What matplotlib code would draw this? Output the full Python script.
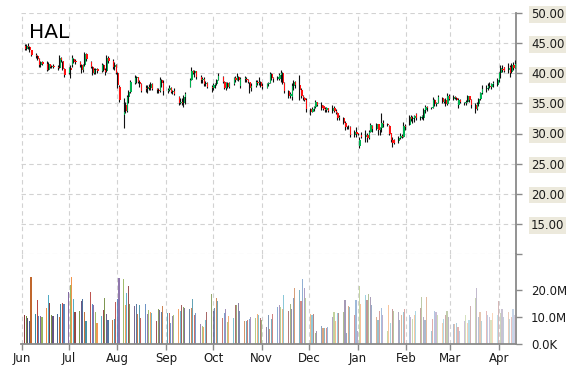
import numpy as np
import pandas as pd
import matplotlib
matplotlib.use("Agg")
import matplotlib.pyplot as plt
import matplotlib.dates as mdates
from matplotlib.colors import to_rgba

# trading days shown on the chart
dates = pd.bdate_range("2013-06-03", "2014-04-11")

opens = [
    44.6, 44.0, 44.6, 44.3, 43.8, 43.1, 42.8, 42.3, 41.3, 41.9, 41.6, 40.6, 41.5, 41.0, 41.2, 41.1, 40.8, 42.6, 42.0, 40.7,  # jun
    40.0, 40.9, 41.3, 42.3, 42.0, 41.8, 41.4, 40.5, 41.3, 43.2, 41.8, 41.0, 40.0, 40.6, 40.7, 40.3, 41.3, 40.6, 40.3, 42.6, 42.0, 41.0, 41.3,  # jul
    40.0, 37.8, 33.0, 34.8, 33.8, 36.0, 36.9, 38.3, 39.2, 39.3, 38.6, 38.2, 37.5, 37.4, 37.8, 37.5, 38.2, 37.4, 37.3, 37.0, 38.8, 38.4,  # aug
    37.0, 37.3, 37.6, 36.9, 37.1, 36.0, 35.0, 35.3, 35.0, 36.1, 37.8, 38.9, 40.4, 40.1, 40.3, 39.3, 38.8, 39.0, 38.2, 38.4, 37.8,  # sep
    37.5, 38.0, 38.2, 38.9, 39.3, 38.6, 37.6, 38.3, 37.8, 38.2, 39.2, 38.9, 39.3, 37.9, 39.0, 39.1, 38.8, 38.5, 37.5, 37.9, 38.5, 38.3, 38.6,  # oct
    37.9, 37.6, 38.2, 38.4, 39.8, 39.2, 39.0, 39.0, 39.7, 40.0, 38.4, 37.0, 36.2, 36.0, 37.9, 38.5, 38.0, 37.3, 36.2, 35.9, 35.6,  # nov
    34.0, 33.6, 34.1, 34.4, 35.2, 34.8, 34.5, 34.1, 33.9, 34.2, 33.8, 34.3, 33.8, 33.4, 32.5, 32.6, 31.8, 31.0, 31.0, 31.1, 29.8, 30.2,  # dec
    30.0, 28.0, 29.8, 29.5, 29.8, 29.3, 30.3, 31.2, 30.8, 31.5, 30.5, 30.9, 31.8, 31.5, 31.3, 30.0, 29.0, 29.0, 28.7, 29.3, 29.6, 29.5, 31.3,  # jan
    31.4, 32.8, 32.4, 32.6, 33.2, 32.5, 32.7, 32.6, 33.9, 34.4, 34.2, 34.2, 35.6, 34.9, 35.1, 35.9, 35.3, 35.5, 34.9, 36.3,  # feb
    35.8, 36.1, 35.9, 34.8, 35.6, 35.0, 35.1, 35.3, 36.2, 35.6, 34.8, 34.0, 34.9, 35.7, 36.7, 37.4, 37.5, 37.9, 37.8, 38.2, 38.1,  # mar
    38.9, 40.0, 40.6, 41.0, 40.5, 41.0, 40.2, 41.3, 40.9,  # apr
]
highs = [
    44.9, 44.8, 45.0, 44.5, 43.9, 43.4, 43.0, 42.6, 42.1, 42.0, 42.0, 41.8, 41.6, 41.4, 41.5, 41.3, 43.0, 42.7, 42.1, 40.8,
    41.0, 41.4, 43.0, 42.5, 42.3, 42.0, 41.6, 41.5, 43.5, 43.3, 42.0, 41.2, 40.9, 40.9, 40.8, 41.7, 41.5, 40.9, 43.0, 42.8, 42.3, 41.8, 41.5,
    40.2, 38.0, 35.9, 35.2, 36.4, 37.2, 38.9, 39.7, 39.5, 39.4, 38.8, 38.3, 38.0, 38.0, 38.2, 38.5, 38.3, 37.6, 37.5, 39.4, 39.0, 38.9,
    37.6, 38.0, 37.8, 37.3, 37.5, 36.2, 35.9, 35.9, 36.4, 36.9, 39.2, 41.0, 40.6, 40.5, 40.4, 39.7, 39.3, 39.3, 38.7, 38.6, 38.0,
    38.3, 38.4, 39.1, 40.0, 39.5, 38.7, 38.5, 38.5, 38.5, 39.4, 39.5, 40.0, 39.6, 39.4, 39.5, 39.3, 39.0, 38.6, 38.4, 38.8, 38.9, 39.3, 38.7,
    38.3, 38.4, 38.6, 40.2, 40.0, 39.4, 39.6, 40.0, 40.5, 40.2, 38.6, 37.2, 36.9, 38.4, 38.9, 38.7, 39.7, 37.5, 36.4, 36.1, 35.9,
    34.2, 34.4, 34.6, 35.6, 35.3, 35.2, 34.8, 34.4, 34.4, 34.3, 34.7, 34.5, 34.0, 33.5, 33.0, 32.8, 32.0, 31.2, 31.4, 31.2, 30.5, 31.1,
    30.1, 29.4, 30.2, 30.6, 30.1, 30.6, 31.7, 31.4, 31.7, 31.6, 31.1, 33.4, 32.2, 31.8, 31.4, 30.1, 29.4, 29.1, 29.6, 30.1, 30.0, 31.9, 31.6,
    33.1, 33.0, 32.9, 33.0, 33.4, 32.9, 33.0, 34.2, 34.7, 34.6, 34.4, 36.1, 35.7, 35.3, 36.4, 36.0, 35.8, 35.9, 36.7, 36.5,
    36.4, 36.3, 36.0, 35.9, 35.8, 35.2, 35.5, 36.4, 36.3, 35.7, 35.1, 35.2, 35.9, 36.9, 38.0, 38.0, 38.3, 38.5, 38.4, 38.7, 39.2,
    40.2, 41.4, 41.4, 41.1, 41.7, 41.4, 41.7, 41.9, 42.2,
]
lows = [
    43.8, 43.9, 44.0, 43.6, 42.9, 42.5, 42.2, 41.0, 41.1, 41.4, 40.3, 40.5, 40.8, 40.9, 40.9, 40.5, 40.8, 41.9, 40.5, 39.4,
    39.8, 39.2, 41.0, 41.7, 41.6, 41.0, 40.0, 40.2, 41.2, 42.0, 40.8, 39.7, 39.8, 39.8, 40.1, 40.2, 40.4, 39.7, 40.2, 41.7, 40.7, 40.5, 39.8,
    37.6, 35.2, 30.9, 33.4, 33.6, 35.1, 36.8, 38.2, 38.4, 38.3, 37.8, 36.9, 36.9, 36.7, 37.2, 37.3, 37.2, 36.7, 36.8, 36.9, 37.8, 36.4,
    36.8, 37.1, 36.7, 36.5, 36.4, 34.7, 34.9, 34.7, 34.4, 34.9, 37.7, 38.9, 39.8, 39.4, 39.1, 38.4, 38.3, 37.9, 37.9, 37.6, 36.9,
    37.3, 37.6, 38.0, 38.8, 38.4, 37.4, 37.2, 37.5, 37.6, 38.0, 38.6, 38.8, 38.7, 37.5, 38.6, 38.5, 38.3, 36.7, 37.0, 37.8, 38.0, 38.0, 37.7,
    37.4, 37.5, 37.9, 38.3, 38.9, 38.6, 38.8, 38.9, 38.5, 38.2, 36.7, 35.9, 35.9, 35.6, 37.2, 37.6, 35.6, 35.9, 35.6, 35.4, 33.6,
    33.1, 33.5, 33.8, 34.3, 34.6, 33.9, 33.9, 33.6, 33.6, 33.5, 33.4, 33.5, 33.2, 32.2, 32.2, 31.5, 30.6, 30.8, 30.8, 29.4, 29.4, 29.4,
    29.8, 27.6, 29.3, 28.6, 28.6, 29.1, 30.2, 30.3, 30.6, 29.7, 29.8, 30.2, 31.1, 31.2, 29.8, 28.6, 27.8, 28.3, 28.5, 29.1, 29.2, 29.4, 30.6,
    31.4, 32.1, 31.7, 31.9, 32.2, 32.2, 32.4, 32.2, 33.4, 33.8, 34.0, 34.2, 34.6, 34.5, 35.1, 35.0, 35.0, 34.6, 34.8, 35.6,
    35.6, 35.7, 35.5, 34.2, 35.0, 34.7, 34.8, 35.2, 35.3, 34.2, 33.4, 33.9, 34.5, 35.5, 36.6, 36.9, 37.3, 37.5, 37.4, 37.8, 37.9,
    38.5, 39.2, 40.2, 40.2, 40.0, 39.4, 40.1, 40.5, 40.8,
]
closes = [
    44.0, 44.6, 44.3, 43.8, 43.1, 42.8, 42.3, 41.3, 41.9, 41.6, 40.6, 41.5, 41.0, 41.2, 41.1, 40.8, 42.6, 42.2, 40.7, 39.7,
    40.8, 40.6, 42.5, 41.8, 41.9, 41.4, 40.5, 41.3, 43.2, 42.3, 41.0, 40.0, 40.6, 40.7, 40.3, 41.3, 40.6, 40.2, 42.6, 42.1, 41.0, 41.3, 40.0,
    38.0, 35.6, 33.6, 33.8, 36.0, 36.9, 38.5, 39.2, 39.3, 38.6, 38.2, 37.1, 37.4, 37.8, 37.5, 38.2, 37.4, 37.3, 37.0, 38.8, 38.4, 37.0,
    37.3, 37.6, 36.9, 37.1, 36.6, 35.0, 35.3, 35.0, 36.1, 36.6, 38.9, 40.4, 40.1, 40.3, 39.3, 38.8, 39.0, 38.2, 38.4, 37.8, 37.5,
    38.0, 38.2, 38.9, 39.6, 38.6, 37.6, 38.3, 37.8, 38.3, 39.2, 38.9, 39.3, 38.9, 39.0, 39.1, 38.8, 38.5, 37.5, 37.9, 38.5, 38.3, 38.6, 37.9,
    37.8, 38.2, 38.3, 39.8, 39.2, 39.0, 39.4, 39.7, 40.0, 38.4, 37.0, 36.2, 36.5, 37.9, 38.5, 38.0, 37.3, 36.2, 35.9, 35.6, 34.0,
    33.6, 34.1, 34.4, 35.2, 34.8, 34.3, 34.1, 33.9, 34.2, 33.8, 34.3, 33.8, 33.4, 32.5, 32.7, 31.8, 31.0, 31.0, 31.1, 29.8, 30.2, 30.0,
    29.9, 28.9, 29.5, 29.8, 29.3, 30.3, 31.4, 30.8, 31.5, 30.5, 30.9, 31.8, 31.5, 31.4, 30.0, 29.0, 28.5, 28.5, 29.3, 29.6, 29.5, 31.3, 31.0,
    32.8, 32.4, 32.6, 32.9, 32.5, 32.7, 32.8, 33.9, 34.4, 34.2, 34.2, 35.6, 34.9, 35.1, 36.0, 35.3, 35.5, 34.9, 36.3, 35.8,
    36.1, 35.9, 35.6, 35.6, 35.3, 35.1, 35.3, 36.2, 35.6, 34.8, 34.0, 34.9, 35.7, 36.7, 37.4, 37.5, 37.9, 37.8, 38.2, 38.3, 38.9,
    40.0, 40.8, 40.5, 40.4, 40.8, 40.1, 41.3, 40.9, 41.6,
]
# volume in millions of shares
volumes = [
    10.9, 10.5, 9.6, 8.6, 24.8, 11.2, 16.4, 10.6, 10.6, 10.2, 13.3, 18.3, 15.4, 10.9, 10.5, 11.2, 10.0, 14.9, 15.2, 14.9,
    19.5, 22.0, 24.8, 16.7, 12.0, 12.3, 16.0, 16.7, 11.9, 8.6, 19.4, 14.9, 14.6, 12.0, 8.0, 10.4, 12.6, 17.3, 11.1, 8.9, 9.1, 9.5, 15.7,
    16.9, 24.7, 24.3, 14.4, 19.1, 21.5, 14.8, 14.0, 14.8, 11.1, 14.4, 9.9, 14.8, 11.1, 12.6, 12.0, 11.5, 8.5, 13.0, 12.6, 12.0, 14.0,
    11.6, 11.6, 7.9, 10.4, 11.0, 13.0, 12.3, 14.4, 13.8, 13.5, 13.0, 13.6, 16.7, 11.0, 11.6, 7.5, 6.8, 6.5, 9.0, 12.0, 18.6,
    12.3, 13.3, 17.3, 16.2, 9.9, 11.5, 13.2, 8.4, 10.5, 9.6, 14.6, 14.6, 15.2, 12.3, 8.6, 8.8, 9.0, 9.4, 10.0, 9.6, 11.2, 10.9, 9.9,
    9.0, 6.5, 10.9, 5.6, 9.5, 11.2, 13.7, 14.6, 13.7, 13.1, 18.3, 12.5, 15.0, 13.0, 17.0, 21.0, 20.0, 16.0, 24.0, 21.0, 17.0,
    11.2, 10.9, 11.2, 4.1, 5.0, 6.8, 5.9, 6.2, 5.9, 6.5, 10.2, 12.1, 8.8, 11.5, 11.7, 12.1, 16.4, 4.0, 14.0, 13.7, 11.0, 16.5,
    5.0, 21.6, 15.0, 18.3, 16.5, 18.5, 17.5, 14.5, 10.0, 9.0, 12.5, 13.5, 11.0, 5.0, 14.5, 8.0, 13.0, 12.5, 12.0, 9.0, 11.0, 12.0, 13.0,
    11.0, 10.0, 9.5, 11.0, 12.5, 13.5, 17.5, 10.0, 9.0, 17.5, 5.0, 9.5, 12.5, 12.0, 11.0, 8.0, 9.5, 11.0, 12.5, 10.0,
    7.5, 7.5, 8.0, 6.5, 5.0, 8.5, 11.0, 8.0, 9.0, 14.0, 17.0, 21.0, 10.0, 12.0, 8.5, 12.5, 11.0, 10.0, 9.0, 11.5, 11.0,
    16.0, 11.5, 13.0, 10.0, 12.0, 9.5, 10.0, 13.0, 11.0,
]

price_ticks = [10, 15, 20, 25, 30, 35, 40, 45, 50]
volume_ticks = [0, 10, 20]
volume_labels = ["0.0K", "10.0M", "20.0M"]
months = pd.date_range("2013-06-01", "2014-04-01", freq="MS")

palette = ["#8b3535", "#6f8a3c", "#5e4a7c", "#3d6494", "#c0652a", "#35879e",
           "#b84440", "#4f7fba", "#7e62a0", "#94b356", "#f08c3e", "#49a8c2"]
grid_kw = dict(color="#d2d2d2", linestyle=(0, (4, 3)), linewidth=0.8)
axis_grey = "#8a8a8a"

o = np.array(opens)
h = np.array(highs)
l = np.array(lows)
c = np.array(closes)
v = np.array(volumes)
x = mdates.date2num(dates)

W, H = 570, 370
fig = plt.figure(figsize=(W / 100, H / 100), dpi=100)
ax = fig.add_axes([21 / W, (H - 254) / H, 494.7 / W, 241 / H])
axv = fig.add_axes([21 / W, (H - 344.3) / H, 494.7 / W, 90.3 / H], sharex=ax)

# candles: black high-low line with the coloured body beside it
up = c >= o
body_col = np.where(up, "#00b050", "#ff1010")
ax.vlines(x, l, h, color="#111111", linewidth=0.8, zorder=3)
ax.bar(x + 0.6, np.maximum(np.abs(c - o), 0.15), bottom=np.minimum(o, c),
       width=0.8, color=body_col, linewidth=0, zorder=3)

# volume bars, fading towards the right
alphas = np.linspace(1.0, 0.32, len(v))
vcols = [to_rgba(palette[i % len(palette)], a) for i, a in enumerate(alphas)]
axv.bar(x, v, width=0.7, color=vcols, linewidth=0)

xmin = mdates.date2num(pd.Timestamp("2013-06-01")) - 0.4
xmax = mdates.date2num(pd.Timestamp("2014-04-11")) + 0.75
ax.set_xlim(xmin, xmax)
ax.set_ylim(10, 50)
axv.set_ylim(0, 33.44)

# price axis on the right
ax.set_yticks(price_ticks, ["" if t == 10 else f"{t:.2f}" for t in price_ticks])
ax.tick_params(axis="y", left=False, right=True, labelleft=False, labelright=True,
               direction="out", length=4, width=1, color=axis_grey, pad=7,
               labelsize=8.5, labelcolor="#1a1a1a")
for lbl in ax.get_yticklabels():
    lbl.set_bbox(dict(facecolor="#ece9dc", edgecolor="none", pad=1.2))
ax.set_xticks(mdates.date2num(months))
ax.tick_params(axis="x", bottom=False, labelbottom=False)
ax.grid(True, **grid_kw)
for s in ["top", "left", "bottom"]:
    ax.spines[s].set_visible(False)
ax.spines["right"].set_color(axis_grey)
ax.spines["right"].set_linewidth(1.3)

# volume axis
axv.set_yticks(volume_ticks, volume_labels)
axv.tick_params(axis="y", left=False, right=True, labelleft=False, labelright=True,
                direction="out", length=4, width=1, color=axis_grey, pad=7,
                labelsize=8.5, labelcolor="#1a1a1a")
axv.set_xticks(mdates.date2num(months), [m.strftime("%b") for m in months])
axv.tick_params(axis="x", direction="out", length=4, width=1, color=axis_grey,
                pad=1.5, labelsize=8.5, labelcolor="#1a1a1a")
axv.grid(True, axis="x", **grid_kw)
for s in ["top", "left"]:
    axv.spines[s].set_visible(False)
for s in ["right", "bottom"]:
    axv.spines[s].set_color(axis_grey)
    axv.spines[s].set_linewidth(1.3)
ax.set_axisbelow(True)
axv.set_axisbelow(True)

fig.text(29 / W, 1 - 38 / H, "HAL", fontsize=14.5, ha="left", va="baseline")

fig.savefig("out.png", dpi=100)
